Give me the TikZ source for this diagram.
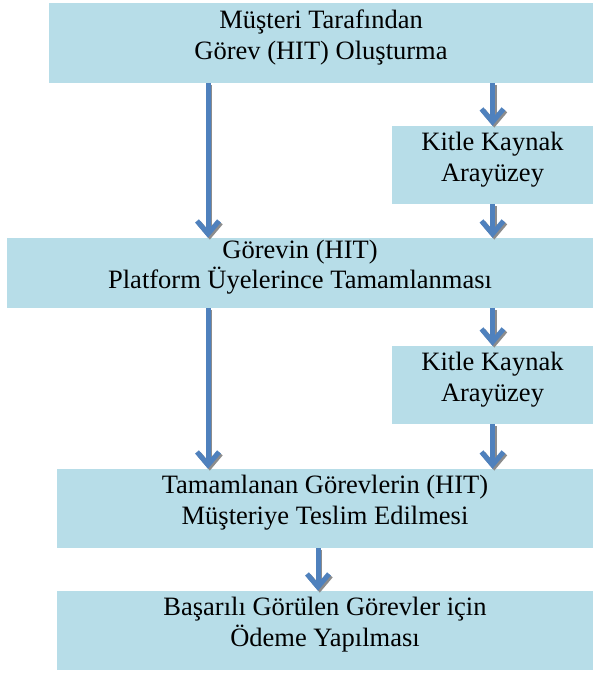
\documentclass[tikz,border=0pt]{standalone}
\usepackage{fontspec}
\setmainfont{Liberation Serif}
\usetikzlibrary{arrows.meta}
\definecolor{boxfill}{HTML}{B7DDE8}
\definecolor{flowblue}{HTML}{4F81BD}
\definecolor{flowshadow}{HTML}{8C8C8C}
\tikzset{
  box/.style={rectangle, fill=boxfill, align=center, inner sep=0pt, text depth=17pt, font=\fontsize{26.5}{30.5}\selectfont},
  iface/.style={box, minimum width=201pt, minimum height=78pt, font=\fontsize{26.5}{31}\selectfont},
  flow/.style={-{Straight Barb[length=13pt, width=22pt]}, line width=5pt, draw=flowblue},
  flowshade/.style={flow, draw=flowshadow, transform canvas={xshift=1.8pt, yshift=-1.8pt}}
}

\begin{document}
\begin{tikzpicture}[x=1pt, y=-1pt]

\useasboundingbox (0,0) rectangle (593,673);

\node[box, minimum width=544pt, minimum height=80pt] (create) at (321,43) {Müşteri Tarafından\\Görev (HIT) Oluşturma};
\node[iface] (iface1) at (492.5,165) {Kitle Kaynak\\Arayüzey};
\node[box, minimum width=586pt, minimum height=70pt] (complete) at (300,273) {Görevin (HIT)\\Platform Üyelerince Tamamlanması};
\node[iface] (iface2) at (492.5,385) {Kitle Kaynak\\Arayüzey};
\node[box, minimum width=536pt, minimum height=79pt] (deliver) at (325,508.5) {Tamamlanan Görevlerin (HIT)\\Müşteriye Teslim Edilmesi};
\node[box, minimum width=536pt, minimum height=79pt] (payment) at (325,630.5) {Başarılı Görülen Görevler için\\Ödeme Yapılması};

\coordinate (leftcol) at (208,0);
\coordinate (midcol) at (318,0);

% shadow first, then the blue arrow on top
\foreach \sty in {flowshade, flow} {
  \draw[\sty] (leftcol |- create.south) -- (leftcol |- complete.north);
  \draw[\sty] (iface1.north |- create.south) -- (iface1.north);
  \draw[\sty] (iface1.south) -- (iface1.south |- complete.north);
  \draw[\sty] (iface2.north |- complete.south) -- (iface2.north);
  \draw[\sty] (leftcol |- complete.south) -- (leftcol |- deliver.north);
  \draw[\sty] (iface2.south) -- (iface2.south |- deliver.north);
  \draw[\sty] (midcol |- deliver.south) -- (midcol |- payment.north);
}

\end{tikzpicture}
\end{document}
